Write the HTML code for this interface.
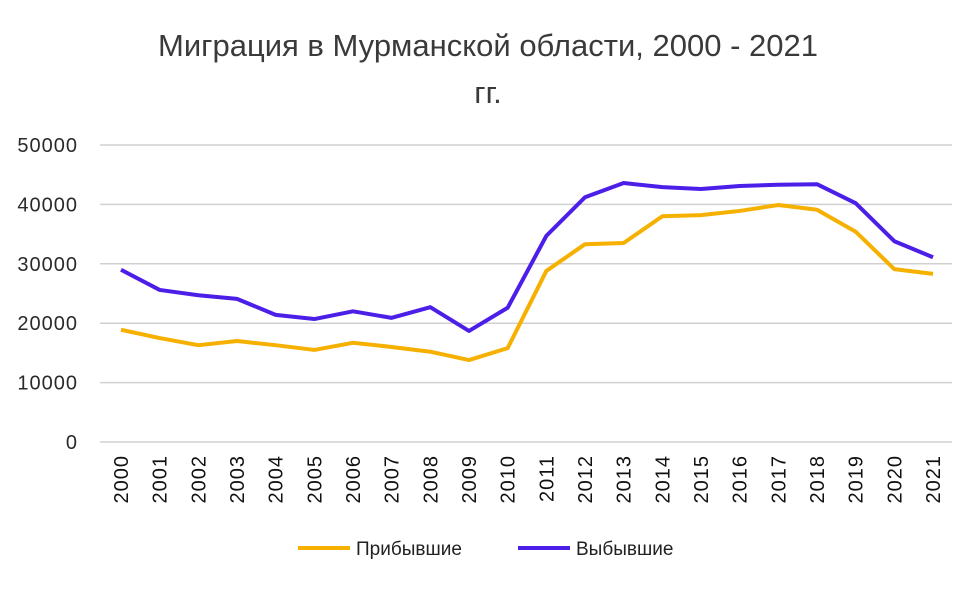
<!DOCTYPE html>
<html><head><meta charset="utf-8"><style>
body{margin:0;background:#fff;font-family:"Liberation Sans","DejaVu Sans",sans-serif}
svg text{font-family:"Liberation Sans","DejaVu Sans",sans-serif}
</style></head><body>
<svg id="chart" width="974" height="584">
<text x="488" y="56" text-anchor="middle" font-size="31" fill="#3a3a3a">Миграция в Мурманской области, 2000 - 2021</text>
<text x="488" y="103" text-anchor="middle" font-size="31" fill="#3a3a3a">гг.</text>
<g id="grid"></g><g id="ylabels"></g><g id="xlabels"></g><g id="lines"></g>
<g>
<line x1="298" y1="548" x2="350" y2="548" stroke="#F6B000" stroke-width="4"/>
<text x="356" y="555" font-size="19" fill="#222">Прибывшие</text>
<line x1="518" y1="548" x2="570" y2="548" stroke="#4B1FE8" stroke-width="4"/>
<text x="576" y="555" font-size="19" fill="#222">Выбывшие</text>
</g>
</svg>
<script>
const years=[2000,2001,2002,2003,2004,2005,2006,2007,2008,2009,2010,2011,2012,2013,2014,2015,2016,2017,2018,2019,2020,2021];
const arrived=[18900,17500,16300,17000,16300,15500,16700,16000,15200,13800,15800,28800,33300,33500,38000,38200,38900,39900,39100,35400,29100,28300];
const departed=[29000,25600,24700,24100,21400,20700,22000,20900,22700,18700,22600,34700,41200,43600,42900,42600,43100,43300,43400,40200,33800,31100];
const yTicks=[0,10000,20000,30000,40000,50000];
const NS="http://www.w3.org/2000/svg";
const x0=121,x1=933,yb=442,yt=145;
const xs=i=>x0+(x1-x0)*i/(years.length-1);
const ys=v=>yb-(yb-yt)*v/50000;
function mk(t,a,p){const e=document.createElementNS(NS,t);for(const k in a)e.setAttribute(k,a[k]);document.getElementById(p).appendChild(e);return e;}
yTicks.forEach(v=>{
 const l=mk('line',{x1:100,x2:952,y1:ys(v),y2:ys(v),stroke:'#d0d0d0','stroke-width':1.5},'grid');
 
 
 const t=mk('text',{x:78,y:ys(v)+7,'text-anchor':'end','font-size':20,'letter-spacing':1,fill:'#2a2a2a'},'ylabels');
 t.textContent=v;
 
 
});
years.forEach((y,i)=>{
 const t=mk('text',{transform:`translate(${xs(i)+7},455) rotate(-90)`,'text-anchor':'end','font-size':20,'letter-spacing':1,fill:'#111'},'xlabels');
 t.textContent=y;
 
 
});
[[arrived,'#F6B000','line-arrived'],[departed,'#4B1FE8','line-departed']].forEach(([d,c,n])=>{
 const p=mk('polyline',{points:d.map((v,i)=>xs(i)+','+ys(v)).join(' '),fill:'none',stroke:c,'stroke-width':4,'stroke-linejoin':'round'},'lines');
 
 
});
</script>
</body></html>
